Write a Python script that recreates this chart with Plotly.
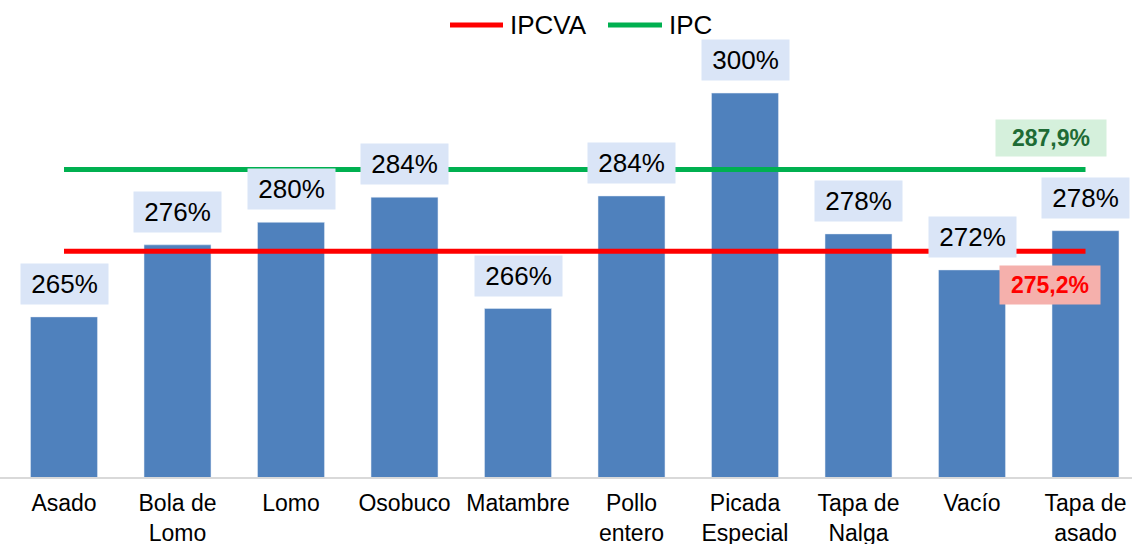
import plotly.graph_objects as go

categories = ["Asado", "Bola de<br>Lomo", "Lomo", "Osobuco", "Matambre", "Pollo<br>entero",
              "Picada<br>Especial", "Tapa de<br>Nalga", "Vacío", "Tapa de<br>asado"]
values = [265.0, 276.2, 279.7, 283.6, 266.3, 283.8, 299.8, 277.9, 272.3, 278.4]
ipcva = 275.2
ipc = 287.9
series_names = ["IPCVA", "IPC"]
series_colors = ["#ff0000", "#00b050"]

FONT = "Arial, Liberation Sans, sans-serif"
x_idx = list(range(len(categories)))

W, H = 1132, 544
ML, MT, MB = 0, 50, 67
PW = W - ML
PH = H - MT - MB

fig = go.Figure()
fig.add_trace(go.Bar(x=x_idx, y=values, marker=dict(color="#4f81bd"), width=0.59,
                     showlegend=False, hoverinfo="y"))
for name, val, col in zip(series_names, [ipcva, ipc], series_colors):
    fig.add_trace(go.Scatter(x=[x_idx[0], x_idx[-1]], y=[val, val], mode="lines", name=name,
                             line=dict(color=col, width=5), showlegend=False))

annotations = []
for i, v in zip(x_idx, values):
    annotations.append(dict(x=i, y=v, xref="x", yref="y", text=f"{v:.0f}%", showarrow=False,
                            yshift=33, font=dict(family=FONT, size=26, color="black"),
                            bgcolor="#dae5f7", width=85, height=38))
annotations.append(dict(x=8.696, y=ipc, xref="x", yref="y",
                        text=f"<b>{ipc:.1f}%</b>".replace(".", ","), showarrow=False, yshift=32,
                        font=dict(family=FONT, size=23, color="#1e6b35"),
                        bgcolor="#d5f0dc", width=108, height=34))
annotations.append(dict(x=8.687, y=ipcva, xref="x", yref="y",
                        text=f"<b>{ipcva:.1f}%</b>".replace(".", ","), showarrow=False, yshift=-34,
                        font=dict(family=FONT, size=23, color="#ff0000"),
                        bgcolor="#f5b0ac", width=98, height=36))

# custom legend (lines + labels) above the plot
shapes = []
leg_y = 1 + (MT - 25) / PH
leg_items = [(450, 503, 508), (608, 662, 667)]
for (x0, x1, tx), name, col in zip(leg_items, series_names, series_colors):
    shapes.append(dict(type="line", xref="paper", yref="paper", x0=x0 / PW, x1=x1 / PW,
                       y0=leg_y, y1=leg_y, line=dict(color=col, width=5)))
    annotations.append(dict(x=tx / PW, y=leg_y, xref="paper", yref="paper", text=name,
                            showarrow=False, xanchor="left", yanchor="middle",
                            font=dict(family=FONT, size=26, color="black")))

x0_range = -64 / 113.5
fig.update_layout(
    width=W, height=H,
    margin=dict(l=ML, r=0, t=MT, b=MB, autoexpand=False),
    paper_bgcolor="white", plot_bgcolor="white",
    font=dict(family=FONT, size=23, color="black"),
    bargap=0.41,
    showlegend=False,
    xaxis=dict(range=[x0_range, x0_range + PW / 113.5], tickmode="array", tickvals=x_idx,
               ticktext=categories, showgrid=False, showline=True, linecolor="#d9d9d9",
               linewidth=1.5, ticks="", tickfont=dict(family=FONT, size=23, color="black"),
               fixedrange=True, automargin=False, ticklabeloverflow="allow",
               ticklabelstandoff=5),
    yaxis=dict(range=[240.1, 306.5], visible=False, showgrid=False, fixedrange=True,
               automargin=False),
    annotations=annotations,
    shapes=shapes,
)

fig.write_html("out.html", config={"displayModeBar": False},
               post_script="document.body.style.margin='0';document.body.style.overflow='hidden';")
